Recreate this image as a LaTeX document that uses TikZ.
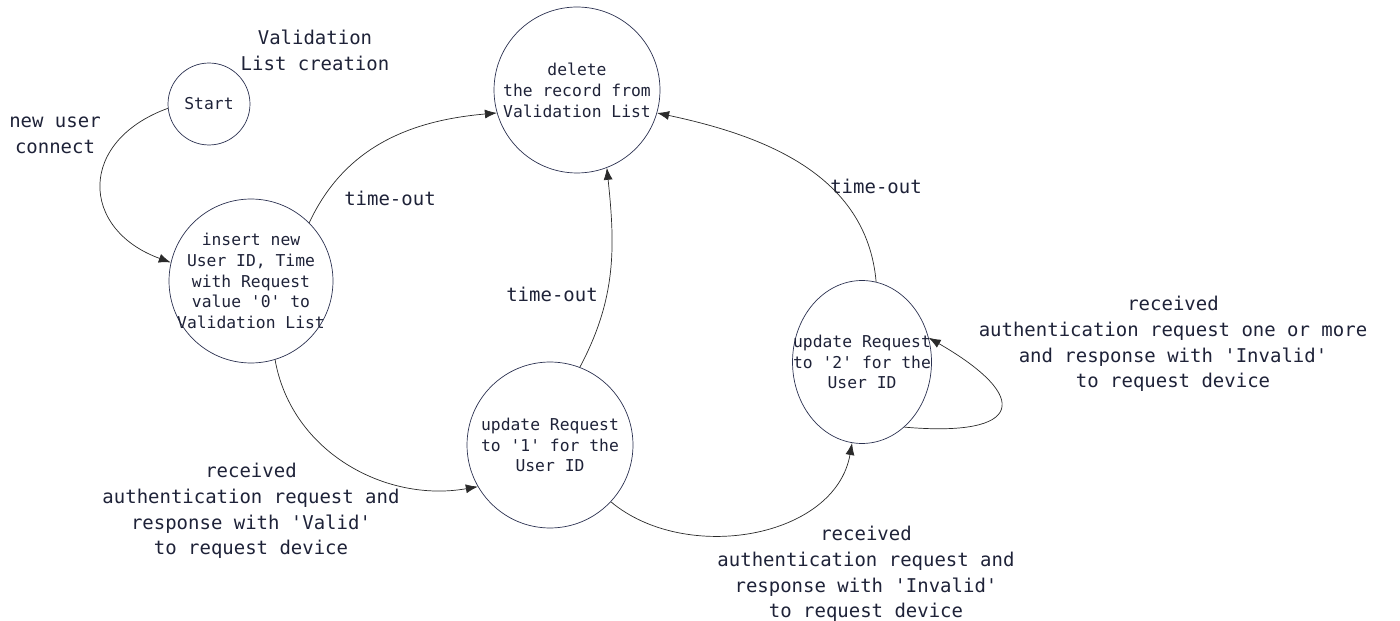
\documentclass[tikz,border=0pt]{standalone}
\usepackage{fontspec}
\setmonofont{DejaVu Sans Mono}
\definecolor{estadoBorde}{HTML}{2B3150}
\definecolor{estadoTexto}{HTML}{1E2238}
\definecolor{linea}{HTML}{2A2A2A}
\usetikzlibrary{
	arrows.meta,
	shapes.geometric
}
\tikzset{
	estado/.style={
		draw=estadoBorde,
		circle,
		thin,
		inner sep=0pt
	},
	estadoOval/.style={
		draw=estadoBorde,
		ellipse,
		thin,
		inner sep=0pt
	},
	textoEstado/.style={
		align=center,
		inner sep=0pt,
		text=estadoTexto,
		font=\ttfamily\fontsize{9.3}{11.9}\selectfont
	},
	etiqueta/.style={
		align=center,
		inner sep=0pt,
		text=estadoTexto,
		font=\ttfamily\fontsize{10.8}{14.7}\selectfont
	},
	transicion/.style={
		-{Latex[length=2.4mm, width=1.8mm]},
		thin,
		linea
	}
}

\begin{document}
\begin{tikzpicture}[x=0.02cm, y=-0.02cm]
		\useasboundingbox (0,0) rectangle (1400,621);
		% estados
		\node[estado, minimum size=1.64cm,
			label={[textoEstado]center:Start}] (inicio) at (209,104) {};
		\node[estado, minimum size=3.28cm,
			label={[textoEstado]center:{insert new\\User ID, Time\\with Request\\value '0' to\\Validation List}}] (insertar) at (251,281) {};
		\node[estado, minimum size=3.32cm,
			label={[textoEstado]center:{delete\\the record from\\Validation List}}] (borrar) at (577,90) {};
		\node[estado, minimum size=3.32cm,
			label={[textoEstado]center:{update Request\\to '1' for the\\User ID}}] (actualizarUno) at (550,445) {};
		\node[estadoOval, minimum width=2.78cm, minimum height=3.26cm,
			label={[textoEstado]center:{update Request\\to '2' for the\\User ID}}] (actualizarDos) at (862,362) {};
		% etiquetas
		\node[etiqueta] (creacion) at (315,50) {Validation\\List creation};
		\node[etiqueta] (nuevo) at (55,135) {new user\\connect};
		\node[etiqueta] (tiempoUno) at (390,198) {time-out};
		\node[etiqueta] (tiempoDos) at (552,294) {time-out};
		\node[etiqueta] (tiempoTres) at (876,186) {time-out};
		\node[etiqueta] (valido) at (251,511) {received\\authentication request and\\response with 'Valid'\\to request device};
		\node[etiqueta] (invalido) at (866,574) {received\\authentication request and\\response with 'Invalid'\\to request device};
		\node[etiqueta] (repetido) at (1173,344) {received\\authentication request one or more\\and response with 'Invalid'\\to request device};
		% transiciones
		\draw[transicion] (inicio.186) to[out=200, in=160, looseness=1.6] (insertar.167);
		\draw[transicion] (insertar.45) to[out=65, in=185] (borrar.196);
		\draw[transicion] (insertar.287) to[out=-80, in=190] (actualizarUno.210);
		\draw[transicion] (actualizarUno.69) to[out=62, in=-84] (borrar.-69);
		\draw[transicion] (actualizarUno.-43) to[out=-40, in=-100] (actualizarDos.263);
		\draw[transicion] (actualizarDos.80) to[out=95, in=-12] (borrar.-16);
		\draw[transicion] (actualizarDos.-57) to[out=-5, in=-30, looseness=3.3] (actualizarDos.20);
	\end{tikzpicture}
\end{document}
